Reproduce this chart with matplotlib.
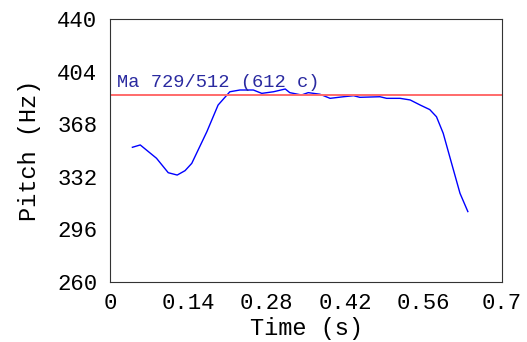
import matplotlib
matplotlib.use("Agg")
import matplotlib.pyplot as plt
from matplotlib.ticker import FixedLocator

# pitch contour
t = [0.040, 0.054, 0.083, 0.104, 0.120, 0.134, 0.146, 0.173, 0.193, 0.214,
     0.232, 0.256, 0.271, 0.292, 0.313, 0.321, 0.342, 0.354, 0.375, 0.393,
     0.417, 0.435, 0.446, 0.482, 0.494, 0.518, 0.536, 0.554, 0.571, 0.583,
     0.595, 0.610, 0.625, 0.639]
pitch = [352.2, 353.8, 344.7, 334.8, 333.2, 336.2, 341.2, 362.9, 381.1, 390.2,
         391.4, 391.4, 389.1, 390.2, 392.1, 389.6, 388.0, 389.6, 388.5, 385.7,
         386.8, 387.5, 386.4, 386.8, 385.7, 385.7, 384.6, 381.1, 378.0, 373.1,
         361.8, 341.2, 320.7, 308.2]

ref_hz = 388.2
ref_label = "Ma 729/512 (612 c)"
xticks = [0, 0.14, 0.28, 0.42, 0.56, 0.7]
xlabels = ["0", "0.14", "0.28", "0.42", "0.56", "0.7"]
yticks = [260, 296, 332, 368, 404, 440]

plt.rcParams['font.family'] = ['Liberation Mono', 'DejaVu Sans Mono']

fig = plt.figure(figsize=(5.27, 3.42), dpi=100)
ax = fig.add_axes([110 / 527, 1 - 282 / 342, 392 / 527, 263 / 342])

ax.plot(t, pitch, color='#0000ff', lw=1.0)
ax.axhline(ref_hz, color='#ff6a6a', lw=1.4)
ax.text(0.012, ref_hz + 2.8, ref_label, color='#2a2aa0', fontsize=13.5,
        va='bottom', ha='left')

ax.set_xlim(0, 0.7)
ax.set_ylim(260, 440)
ax.set_xticks(xticks)
ax.set_xticklabels(xlabels)
ax.set_yticks(yticks)
ax.xaxis.set_minor_locator(FixedLocator([0, 0.7]))
ax.yaxis.set_minor_locator(FixedLocator([260, 440]))
ax.tick_params(which='major', length=0, labelsize=16)
ax.tick_params(axis='y', which='major', pad=9)
ax.tick_params(axis='x', which='major', pad=8)
ax.tick_params(which='minor', length=6, direction='out', width=0.8)

for s in ax.spines.values():
    s.set_linewidth(0.8)
    s.set_color('#333333')

ax.set_xlabel("Time (s)", fontsize=17, labelpad=2)
ax.set_ylabel("Pitch (Hz)", fontsize=17, labelpad=12)

fig.savefig("out.png", dpi=100)
